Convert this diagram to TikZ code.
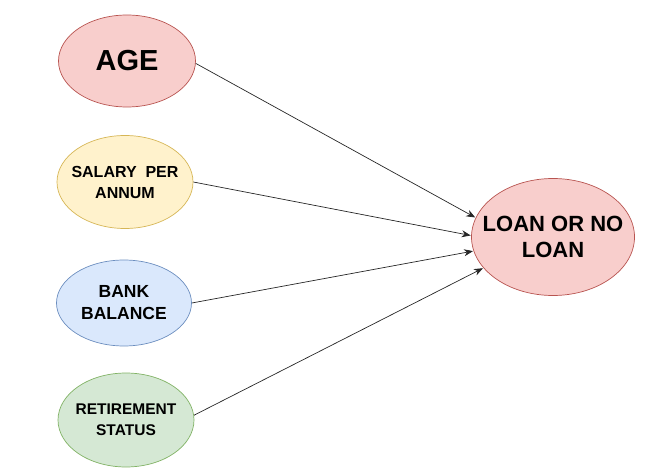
\documentclass[tikz,border=0pt]{standalone}
\usepackage{fontspec}
\setmainfont{Liberation Sans}
\usetikzlibrary{shapes.geometric,arrows.meta}
\definecolor{redfill}{HTML}{F8CECC}
\definecolor{redline}{HTML}{B85450}
\definecolor{yelfill}{HTML}{FFF2CC}
\definecolor{yelline}{HTML}{D6B656}
\definecolor{bluefill}{HTML}{DAE8FC}
\definecolor{blueline}{HTML}{6C8EBF}
\definecolor{grnfill}{HTML}{D5E8D4}
\definecolor{grnline}{HTML}{82B366}
\tikzset{
  oval/.style={ellipse, draw, line width=0.7pt, inner sep=-25pt, align=center, font=\bfseries},
  link/.style={-{Stealth[length=9pt,width=7pt]}, line width=0.7pt, draw=black!85, shorten >=0.5pt}
}
\begin{document}
\begin{tikzpicture}[x=1pt,y=-1pt]
\useasboundingbox (0,0) rectangle (651,473);
\node[oval, fill=redfill, draw=redline, minimum width=137pt, minimum height=92pt,
  font=\bfseries\fontsize{29}{32}\selectfont] (age) at (127,61) {AGE};
\node[oval, fill=yelfill, draw=yelline, minimum width=136pt, minimum height=93pt,
  font=\bfseries\fontsize{16}{21}\selectfont] (sal) at (125,182) {SALARY\ \ PER\\ANNUM};
\node[oval, fill=bluefill, draw=blueline, minimum width=135pt, minimum height=86pt,
  font=\bfseries\fontsize{17.5}{22}\selectfont] (bank) at (124,303) {BANK\\BALANCE};
\node[oval, fill=grnfill, draw=grnline, minimum width=136pt, minimum height=94pt,
  font=\bfseries\fontsize{15.5}{21}\selectfont] (ret) at (126,420) {RETIREMENT\\STATUS};
\node[oval, fill=redfill, draw=redline, minimum width=163pt, minimum height=117pt,
  font=\bfseries\fontsize{22}{26}\selectfont] (loan) at (553,237) {LOAN OR NO\\LOAN};
\draw[link] (age.-2) -- (loan.166);
\draw[link] (sal.east) -- (loan.179);
\draw[link] (bank.east) -- (loan.190);
\draw[link] (ret.4) -- (loan.204);
\end{tikzpicture}
\end{document}
